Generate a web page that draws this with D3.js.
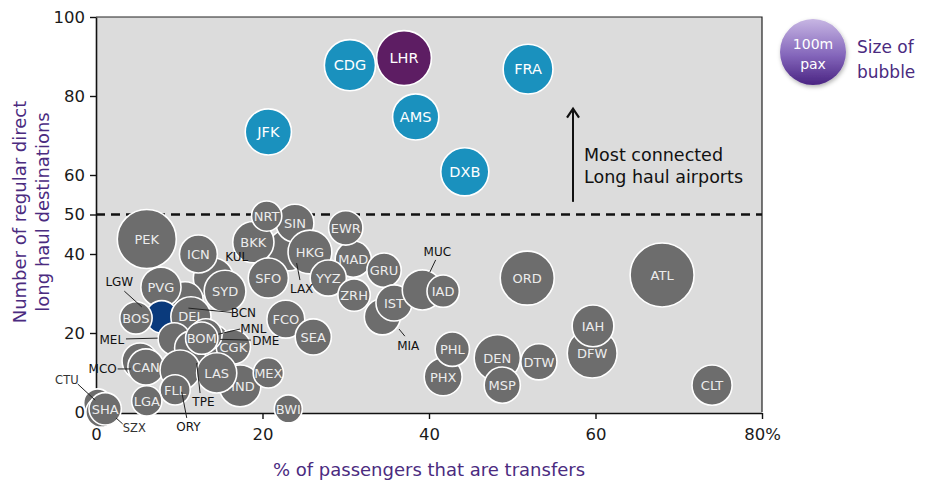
<!DOCTYPE html>
<html><head><meta charset="utf-8">
<script src="https://cdn.jsdelivr.net/npm/d3@7/dist/d3.min.js"></script>
<style>
body{margin:0;background:#fff}
svg{display:block}
text{font-family:"DejaVu Sans",Verdana,sans-serif}
</style>
</head><body>
<svg id="chart" width="925" height="485"></svg>
<script>
// ---------------- DATA (draw order: back to front) ----------------
const codes = ["LAX","KUL","BKK","SIN","HKG","NRT","MAD","EWR","YYZ","ZRH","GRU","MIA","IST","MUC","IAD",
  "PEK","ICN","SYD","SFO","BCN","PVG","LGW","BOS","DEL","MEL","TPE","DME","CGK","MNL","BOM",
  "MCO","CAN","ORY","HND","LAS","MEX","FLL","LGA","CTU","SZX","SHA","BWI","FCO","SEA",
  "PHX","PHL","DEN","MSP","DTW","DFW","IAH","ORD","ATL","CLT",
  "JFK","CDG","LHR","AMS","FRA","DXB"];
// % of passengers that are transfers
const transferPct = [23.1,14.1,18.9,23.9,25.7,20.5,30.9,30.0,27.9,31.0,34.6,34.4,35.8,39.2,41.7,
  6.1,12.3,15.5,20.7,10.7,7.8,7.9,4.8,11.4,9.4,11.5,14.1,16.5,13.2,12.7,
  5.3,6.0,10.1,17.3,14.5,20.7,9.5,6.1,0.2,0.6,1.1,23.1,22.8,26.1,
  41.7,42.8,48.2,48.8,53.2,59.6,59.7,51.8,68.0,74.0,
  20.7,30.5,37.0,38.4,51.9,44.3];
// Number of regular direct long haul destinations
const destinations = [41.0,33.9,43.0,47.8,40.5,49.6,38.7,46.6,33.9,29.6,35.9,24.1,27.6,30.9,30.6,
  43.8,40.0,30.6,33.9,28.4,31.6,24.1,23.8,24.1,18.5,16.2,18.0,16.5,19.5,18.7,
  12.9,11.4,10.6,6.6,9.9,9.9,5.6,2.8,2.3,0,0.8,0.8,23.5,19.0,
  8.9,15.9,13.7,6.8,12.7,14.9,21.8,33.9,34.7,6.8,
  70.9,87.8,89.6,74.7,86.8,60.8];
// Passengers (m) – bubble size
const paxM = [40,37,39,33,44,21,30,27,30,24,27,30,30,37,24,
  80,33,40,37,30,37,24,24,37,24,27,24,27,24,24,
  30,30,37,40,37,21,21,21,18,21,24,18,33,30,
  33,27,49,30,30,57,40,67,94,37,
  49,60,69,49,57,53];
// group: g = other, c = most connected, lhr, lgw
const groups = ["g","g","g","g","g","g","g","g","g","g","g","g","g","g","g",
  "g","g","g","g","g","g","lgw","g","g","g","g","g","g","g","g",
  "g","g","g","g","g","g","g","g","g","g","g","g","g","g",
  "g","g","g","g","g","g","g","g","g","g",
  "c","c","lhr","c","c","c"];

// call-out labels (label centre and leader line, in data units)
const calloutCodes = ["KUL","LGW","BCN","MNL","DME","MEL","MCO","TPE","ORY","SZX","CTU","LAX","MUC","MIA"];
const calloutLabel = [[16.9,39.2],[2.8,32.9],[17.7,25.2],[18.9,21.1],[20.4,18.0],[1.9,18.2],[0.8,10.9],
  [12.9,2.5],[11.1,-3.8],[4.6,-4.1],[-3.5,8.1],[24.7,31.1],[41.0,40.5],[37.5,16.7]];
const calloutLine = [null,[3.4,30.6,5.5,26.6],[16.3,25.2,11.1,26.3],[17.3,21.0,14.7,19.7],[18.6,18.2,14.9,18.4],
  [3.6,18.5,7.4,18.7],[2.6,10.9,4.2,10.9],[12.5,4.8,12.1,12.4],[10.9,-1.5,10.3,5.1],[3.2,-3.0,2.4,-1.5],
  [-2.2,7.1,-0.1,3.0],[24.5,33.4,24.1,37.7],[40.8,38.5,40.1,35.4],[37.1,19.2,36.4,21.0]];

const yTicks = [0,20,40,50,60,80,100];
const xTicks = [0,20,40,60,80];
const threshold = 50;
const legendPax = 100;
const annotationLines = ["Most connected","Long haul airports"];
const arrowX = 57.3, arrowFrom = 53.2, arrowTo = 76.8;

// ---------------- CHART ----------------
const svg = d3.select("#chart");
const x = d3.scaleLinear().domain([0,80]).range([96,762]);
const y = d3.scaleLinear().domain([0,100]).range([412,17]);
const r = d3.scaleSqrt().domain([0,100]).range([0,33]);
const colors = {g:"#6d6d6d", c:"#1a91be", lhr:"#5d1d63", lgw:"#0a3a7c"};
const purple = "#4b2b7f";

const defs = svg.append("defs");
const grad = defs.append("linearGradient").attr("id","lg").attr("x1",0).attr("y1",0).attr("x2",0).attr("y2",1);
grad.append("stop").attr("offset","0%").attr("stop-color","#c7b6e3");
grad.append("stop").attr("offset","55%").attr("stop-color","#8466bb");
grad.append("stop").attr("offset","100%").attr("stop-color","#4a2482");
const sh = defs.append("filter").attr("id","sh").attr("x","-30%").attr("y","-30%").attr("width","160%").attr("height","160%");
sh.append("feDropShadow").attr("dx",1).attr("dy",2).attr("stdDeviation",2).attr("flood-color","#000").attr("flood-opacity",0.3);

// plot area
svg.append("rect").attr("x",x(0)).attr("y",y(100)).attr("width",x(80)-x(0)).attr("height",y(0)-y(100)+1)
  .attr("fill","#dcdcdc");
svg.append("path").attr("d",`M${x(0)},${y(100)}H${x(80)}V${y(0)}`).attr("fill","none").attr("stroke","#222").attr("stroke-width",1.2);

// axes
const gy = svg.append("g").attr("transform",`translate(${x(0)},0)`)
  .call(d3.axisLeft(y).tickValues(yTicks).tickSize(6).tickSizeOuter(0).tickPadding(5).tickFormat(d=>d));
const gx = svg.append("g").attr("transform",`translate(0,${y(0)+1})`)
  .call(d3.axisBottom(x).tickValues(xTicks).tickSize(6).tickSizeOuter(0).tickPadding(9).tickFormat(d=>d===80?"80%":d));
[gx,gy].forEach(g=>{
  g.select(".domain").attr("stroke","#111").attr("stroke-width",1.6);
  g.selectAll(".tick line").attr("stroke","#111").attr("stroke-width",1.4);
  g.selectAll("text").attr("font-size",16.5).attr("fill","#1a1a1a").attr("font-family","DejaVu Sans, Verdana, sans-serif");
});
gx.selectAll(".tick").filter(d=>d===0).select("line").remove();

// threshold line
svg.append("line").attr("x1",x(0)).attr("x2",x(80)).attr("y1",y(threshold)).attr("y2",y(threshold))
  .attr("stroke","#111").attr("stroke-width",2.5).attr("stroke-dasharray","9,6");

// annotation arrow + text
svg.append("line").attr("x1",x(arrowX)).attr("x2",x(arrowX)).attr("y1",y(arrowFrom)).attr("y2",y(arrowTo)+2)
  .attr("stroke","#111").attr("stroke-width",2);
svg.append("path").attr("d",`M${x(arrowX)-6},${y(arrowTo)+9}L${x(arrowX)},${y(arrowTo)}L${x(arrowX)+6},${y(arrowTo)+9}`)
  .attr("fill","none").attr("stroke","#111").attr("stroke-width",2.2);
svg.append("g").selectAll("text").data(annotationLines).join("text")
  .attr("x",x(arrowX)+11).attr("y",(d,i)=>161+i*22).attr("font-size",17.5).attr("fill","#111").text(d=>d);

// bubbles
const data = codes.map((c,i)=>({code:c,x:transferPct[i],y:destinations[i],pax:paxM[i],g:groups[i]}));
const callSet = new Set(calloutCodes);
const bub = svg.append("g").selectAll("g").data(data).join("g")
  .attr("transform",d=>`translate(${x(d.x)},${y(d.y)})`);
bub.append("circle").attr("r",d=>r(d.pax)).attr("fill",d=>colors[d.g])
  .attr("stroke","#fff").attr("stroke-width",1.6);
bub.filter(d=>!callSet.has(d.code)).append("text")
  .attr("text-anchor","middle").attr("dy","0.36em")
  .attr("font-size",d=>d.g==="g"?13:14.5)
  .attr("fill",d=>d.g==="g"?"#ececec":"#fff")
  .text(d=>d.code);

// call-outs
const co = svg.append("g");
calloutCodes.forEach((c,i)=>{
  const l = calloutLine[i];
  if(l) co.append("line").attr("x1",x(l[0])).attr("y1",y(l[1])).attr("x2",x(l[2])).attr("y2",y(l[3]))
    .attr("stroke","#222").attr("stroke-width",1);
  co.append("text").attr("x",x(calloutLabel[i][0])).attr("y",y(calloutLabel[i][1])).attr("dy","0.35em")
    .attr("text-anchor","middle").attr("font-size",c==="CTU"||c==="SZX"?11.5:12)
    .attr("fill",c==="CTU"||c==="SZX"?"#333":"#111").text(c);
});

// axis titles
svg.append("text").attr("x",(x(0)+x(80))/2).attr("y",476).attr("text-anchor","middle")
  .attr("font-size",18).attr("fill",purple).text("% of passengers that are transfers");
const yt = svg.append("text").attr("transform","translate(0,212) rotate(-90)").attr("text-anchor","middle")
  .attr("font-size",18).attr("fill",purple);
yt.append("tspan").attr("x",0).attr("y",26).text("Number of regular direct");
yt.append("tspan").attr("x",0).attr("y",49).text("long haul destinations");

// legend
const lg = svg.append("g").attr("transform","translate(813,52)");
lg.append("circle").attr("r",r(legendPax)).attr("fill","url(#lg)").attr("filter","url(#sh)");
lg.append("text").attr("text-anchor","middle").attr("y",-3).attr("font-size",14).attr("fill","#fff").text("100m");
lg.append("text").attr("text-anchor","middle").attr("y",17).attr("font-size",14).attr("fill","#fff").text("pax");
svg.append("text").attr("x",857).attr("y",53).attr("font-size",17).attr("fill",purple).text("Size of");
svg.append("text").attr("x",857).attr("y",78).attr("font-size",17).attr("fill",purple).text("bubble");
</script>
</body></html>
